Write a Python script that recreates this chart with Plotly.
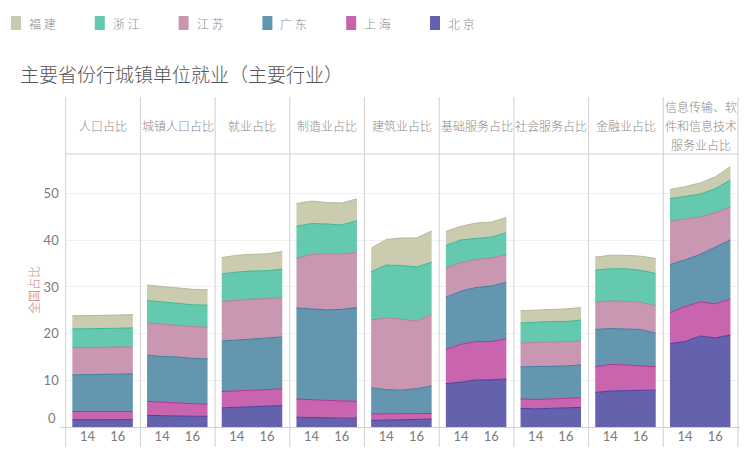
import plotly.graph_objects as go

# ---------------- data ----------------
years = [13, 14, 15, 16, 17]
x_tick_vals = [14, 16]
x_tick_text = ["14", "16"]
y_tick_vals = [0, 10, 20, 30, 40, 50]
y_tick_text = ["", "10", "20", "30", "40", "50"]

industries = ["人口占比", "城镇人口占比", "就业占比", "制造业占比", "建筑业占比",
              "基础服务占比", "社会服务占比", "金融业占比",
              "信息传输、软<br>件和信息技术<br>服务业占比"]

# bottom-to-top stacking order: 北京, 上海, 广东, 江苏, 浙江, 福建
provinces = ["北京", "上海", "广东", "江苏", "浙江", "福建"]

beijing = [
    [1.56, 1.57, 1.58, 1.58, 1.57],
    [2.5, 2.4, 2.4, 2.3, 2.3],
    [4.1, 4.2, 4.3, 4.4, 4.6],
    [2.1, 2.0, 2.0, 1.9, 1.9],
    [1.4, 1.5, 1.5, 1.6, 1.7],
    [9.3, 9.6, 10.1, 10.1, 10.3],
    [4.0, 3.9, 4.0, 4.1, 4.2],
    [7.4, 7.7, 7.8, 7.8, 7.9],
    [17.9, 18.3, 19.5, 19.1, 19.7],
]
shanghai = [
    [1.76, 1.75, 1.74, 1.75, 1.75],
    [3.0, 2.9, 2.8, 2.7, 2.6],
    [3.5, 3.5, 3.5, 3.6, 3.6],
    [3.9, 3.8, 3.7, 3.7, 3.6],
    [1.4, 1.3, 1.3, 1.3, 1.2],
    [7.3, 8.1, 8.2, 8.2, 8.6],
    [2.0, 2.0, 2.0, 2.0, 2.1],
    [5.5, 5.7, 5.5, 5.3, 5.0],
    [6.6, 7.5, 7.3, 7.3, 7.7],
]
guangdong = [
    [7.85, 7.87, 7.92, 7.99, 8.09],
    [9.9, 9.8, 9.8, 9.7, 9.7],
    [10.8, 10.9, 11.0, 11.0, 11.1],
    [19.5, 19.5, 19.4, 19.6, 20.1],
    [5.6, 5.2, 5.1, 5.3, 5.9],
    [11.2, 11.4, 11.6, 11.9, 12.1],
    [6.9, 7.0, 7.0, 7.0, 7.0],
    [8.0, 7.7, 7.7, 7.8, 7.2],
    [10.3, 10.0, 10.2, 12.1, 12.7],
]
jiangsu = [
    [5.81, 5.80, 5.78, 5.77, 5.76],
    [6.9, 6.9, 6.8, 6.8, 6.8],
    [8.5, 8.6, 8.6, 8.5, 8.4],
    [10.6, 11.7, 12.0, 11.9, 11.8],
    [14.5, 15.4, 15.2, 14.5, 15.3],
    [6.3, 6.1, 6.0, 6.0, 5.9],
    [5.1, 5.2, 5.1, 5.1, 5.1],
    [5.8, 5.9, 5.9, 5.8, 5.9],
    [9.3, 8.8, 8.0, 7.4, 7.0],
]
zhejiang = [
    [4.04, 4.04, 4.05, 4.06, 4.08],
    [4.8, 4.8, 4.7, 4.7, 4.7],
    [5.9, 6.0, 6.0, 6.0, 6.1],
    [6.9, 6.6, 6.4, 6.2, 6.8],
    [10.4, 11.3, 11.5, 11.6, 11.2],
    [4.8, 4.9, 4.5, 4.5, 4.7],
    [4.3, 4.4, 4.5, 4.4, 4.5],
    [6.9, 6.9, 7.0, 6.9, 6.9],
    [4.8, 4.8, 4.9, 5.2, 5.8],
]
fujian = [
    [2.80, 2.81, 2.82, 2.83, 2.84],
    [3.3, 3.3, 3.3, 3.3, 3.3],
    [3.5, 3.6, 3.6, 3.6, 3.8],
    [4.9, 4.8, 4.6, 4.7, 4.7],
    [5.0, 5.5, 5.9, 6.2, 6.7],
    [3.0, 2.9, 3.3, 3.2, 3.3],
    [2.6, 2.5, 2.5, 2.7, 2.7],
    [2.8, 2.9, 2.9, 3.0, 3.2],
    [2.0, 2.1, 2.4, 2.5, 2.9],
]

series = [beijing, shanghai, guangdong, jiangsu, zhejiang, fujian]

fill_colors = ["rgba(98,96,172,0.99)", "rgba(200,98,174,0.99)", "rgba(98,150,174,0.99)",
               "rgba(200,150,176,0.99)", "rgba(98,200,174,0.99)", "rgba(202,202,174,0.99)"]
line_colors = ["#4a3fa0", "#b8309a", "#3f7ba3", "#b87d9d", "#3ab896", "#b8b89c"]

legend_order = ["福建", "浙江", "江苏", "广东", "上海", "北京"]
legend_colors = ["#cacaae", "#62c8ae", "#c996b0", "#6096ae", "#c862ae", "#6262ae"]

# ---------------- layout geometry (pixels) ----------------
W, H = 749, 455
col_left = 65.7
col_w = 74.7
y_zero_px = 427
y_top_px = 155
px_per_unit = 4.667


def px(x):
    return x / W


def py(y):
    return 1 - y / H


fig = go.Figure()

for i in range(len(industries)):
    xname = "x" if i == 0 else f"x{i + 1}"
    for s in range(len(provinces)):
        fig.add_trace(go.Scatter(
            x=years, y=series[s][i], xaxis=xname, yaxis="y",
            stackgroup=f"g{i}", mode="lines",
            line=dict(color=line_colors[s], width=1),
            fillcolor=fill_colors[s], name=provinces[s], showlegend=False,
            hoverinfo="x+y+name",
        ))

layout = dict(
    width=W, height=H, autosize=False,
    margin=dict(l=0, r=0, t=0, b=0),
    paper_bgcolor="white", plot_bgcolor="white",
    font=dict(family="Noto Sans CJK SC, Lato, sans-serif", color="#777"),
    showlegend=False,
)

y_range_top = (y_zero_px - y_top_px) / px_per_unit
layout["yaxis"] = dict(
    domain=[py(y_zero_px), py(y_top_px)], range=[0, y_range_top],
    tickvals=y_tick_vals, ticktext=y_tick_text,
    showgrid=True, gridcolor="#efefef", gridwidth=1,
    zeroline=False, showline=False, ticks="", anchor="x",
    tickfont=dict(family="Lato, sans-serif", size=13, color="#7a7a7a"),
    ticklabelstandoff=6, fixedrange=True,
)

for i in range(len(industries)):
    key = "xaxis" if i == 0 else f"xaxis{i + 1}"
    left = col_left + i * col_w
    layout[key] = dict(
        domain=[px(left), px(left + col_w)], range=[12.56, 17.5],
        tickvals=x_tick_vals, ticktext=x_tick_text, showgrid=False,
        zeroline=False, showline=False, ticks="", anchor="y",
        tickfont=dict(family="Lato, sans-serif", size=13, color="#7a7a7a"),
        fixedrange=True,
    )

shapes = []
line_style = dict(color="#cfcfcf", width=1)
for i in range(len(industries) + 1):
    xx = col_left + i * col_w
    shapes.append(dict(type="line", xref="paper", yref="paper",
                       x0=px(xx), x1=px(xx), y0=py(97), y1=py(447), line=line_style))
shapes.append(dict(type="line", xref="paper", yref="paper",
                   x0=px(col_left), x1=px(col_left + 9 * col_w), y0=py(154), y1=py(154),
                   line=line_style))
shapes.append(dict(type="line", xref="paper", yref="paper",
                   x0=px(60), x1=px(740), y0=py(y_zero_px + 0.5), y1=py(y_zero_px + 0.5),
                   line=line_style))

annotations = []
# headers
for i, name in enumerate(industries):
    cx = col_left + (i + 0.5) * col_w
    lines = name.split("<br>")
    n = len(lines)
    for k, ln in enumerate(lines):
        yy = 125 + (k - (n - 1) / 2) * 19
        annotations.append(dict(
            text=ln, x=px(cx), y=py(yy), xref="paper", yref="paper",
            xanchor="center", yanchor="middle", showarrow=False,
            font=dict(family="Noto Sans CJK SC", size=12, color="#8a8a8a", weight=300),
        ))

# nudged zero label (as in the original)
annotations.append(dict(
    text="0", x=px(57.5), y=py(418), xref="paper", yref="paper",
    xanchor="right", yanchor="middle", showarrow=False,
    font=dict(family="Lato, sans-serif", size=13, color="#7a7a7a"),
))

# title
annotations.append(dict(
    text="主要省份行城镇单位就业（主要行业）", x=px(18), y=py(73),
    xref="paper", yref="paper", xanchor="left", yanchor="middle", showarrow=False,
    font=dict(family="Noto Sans CJK SC", size=19, color="#555555", weight=300),
))

# y-axis title
annotations.append(dict(
    text="全国占比", x=px(33), y=py(290), xref="paper", yref="paper",
    xanchor="center", yanchor="middle", showarrow=False, textangle=-90,
    font=dict(family="Noto Sans CJK SC", size=12, color="#c87a7a", weight=300),
))

# legend
for k, (nm, colr) in enumerate(zip(legend_order, legend_colors)):
    lx = 11 + k * 83.8
    shapes.append(dict(type="rect", xref="paper", yref="paper",
                       x0=px(lx), x1=px(lx + 10), y0=py(30), y1=py(16),
                       fillcolor=colr, line=dict(width=0)))
    annotations.append(dict(
        text=" ".join(list(nm)), x=px(lx + 16), y=py(23), xref="paper", yref="paper",
        xanchor="left", yanchor="middle", showarrow=False,
        font=dict(family="Noto Sans CJK SC", size=12, color="#888888", weight=300),
    ))

layout["shapes"] = shapes
layout["annotations"] = annotations
fig.update_layout(**layout)

fig.write_html(
    "out.html",
    post_script=("document.body.style.margin='0';"
                 "document.body.style.overflow='hidden';"
                 "document.documentElement.style.overflow='hidden';"),
    config={"displayModeBar": False},
)
